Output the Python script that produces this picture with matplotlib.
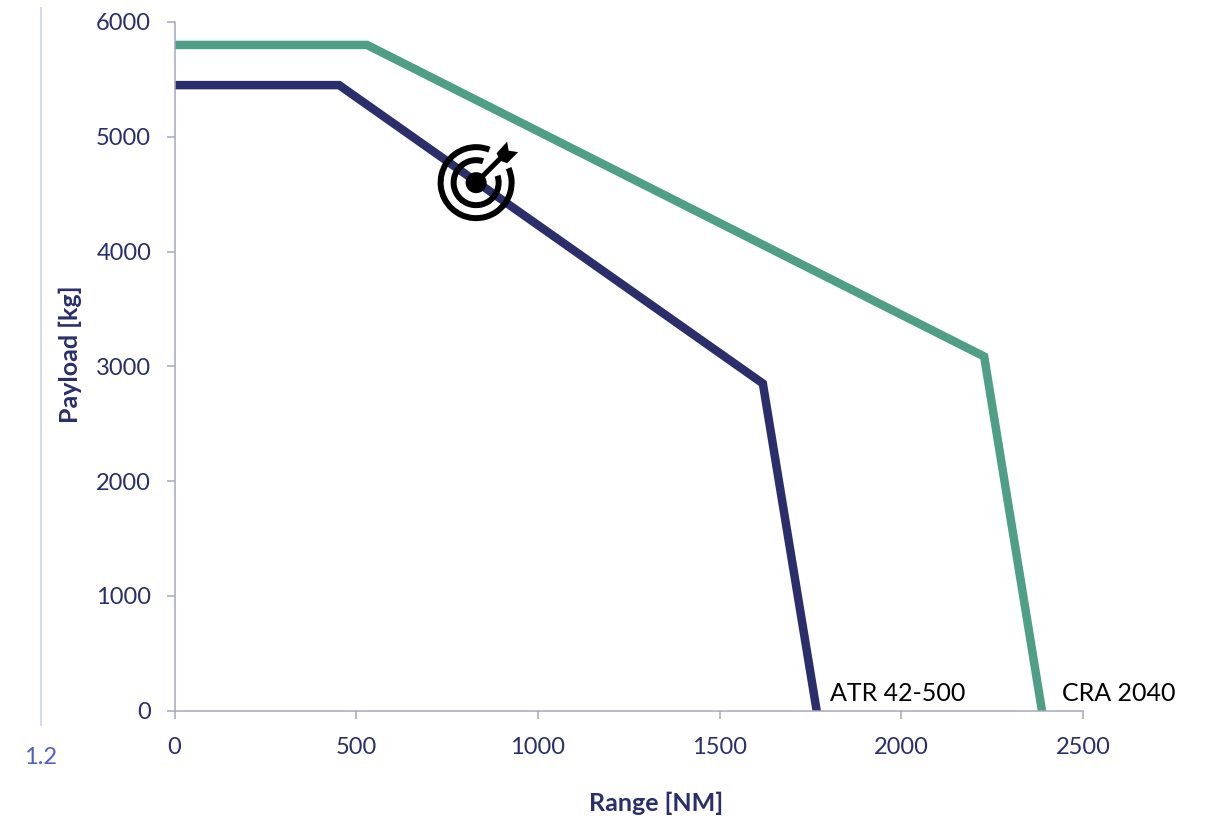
import matplotlib
matplotlib.use("Agg")
import matplotlib.pyplot as plt
from matplotlib.lines import Line2D
from matplotlib.patches import Circle, Polygon, Wedge
from matplotlib.transforms import Affine2D

atr_range = [0, 453, 1619, 1767]
atr_payload = [5450, 5450, 2850, 0]
cra_range = [0, 530, 2228, 2387]
cra_payload = [5800, 5800, 3085, 0]

target_range = 830
target_payload = 4600

x_ticks = [0, 500, 1000, 1500, 2000, 2500]
y_ticks = [0, 1000, 2000, 3000, 4000, 5000, 6000]

NAVY = "#2a2f6b"
GREEN = "#4f9e86"
AXIS_GREY = "#a6a7b8"

plt.rcParams["font.family"] = ["Lato", "DejaVu Sans"]


def draw_target(ax, x, y):
    # bullseye icon, sized in pixels so it stays round whatever the axis scales are
    cx, cy = ax.transData.transform((x, y))
    tr = Affine2D().translate(cx, cy)
    for r, w, gap in [(38.5, 6, (24, 68)), (25.5, 6, (18, 72))]:
        ax.add_patch(Wedge((0, 0), r, gap[1], gap[0] + 360, width=w, color="black",
                           lw=0, transform=tr, clip_on=False, zorder=5))
    ax.add_patch(Circle((0, 0), 10.5, color="black", lw=0, transform=tr, clip_on=False, zorder=5))
    # shaft and fletching
    ax.plot([0, 25], [0, 25], color="black", lw=3.6, transform=tr, clip_on=False, zorder=5)
    fletch = [(20.5, 29.5), (31, 41), (32.5, 32), (42, 30.5), (31, 19.5), (24, 22)]
    ax.add_patch(Polygon(fletch, closed=True, color="black", lw=0, transform=tr,
                         clip_on=False, zorder=5))


fig = plt.figure(figsize=(12.05, 8.25), dpi=100)
ax = fig.add_axes([174.5 / 1205, 1 - 710.5 / 825, 908.5 / 1205, 688.5 / 825])

ax.plot(atr_range, atr_payload, color=NAVY, lw=6.1, solid_joinstyle="miter", solid_capstyle="projecting")
ax.plot(cra_range, cra_payload, color=GREEN, lw=6.1, solid_joinstyle="miter", solid_capstyle="projecting")

ax.set_xlim(0, 2500)
ax.set_ylim(0, 6000)
ax.set_xticks(x_ticks)
ax.set_yticks(y_ticks)
ax.tick_params(axis="both", length=5.8, width=1.1, color=AXIS_GREY, labelcolor=NAVY, labelsize=17)
ax.tick_params(axis="x", pad=13)
ax.tick_params(axis="y", pad=11)

ax.spines["top"].set_visible(False)
ax.spines["right"].set_visible(False)
for side in ["left", "bottom"]:
    ax.spines[side].set_color(AXIS_GREY)
    ax.spines[side].set_linewidth(1.1)

ax.text(1804, 148, "ATR 42-500", color="black", fontsize=18, va="center", ha="left")
ax.text(2442, 148, "CRA 2040", color="black", fontsize=18, va="center", ha="left")

draw_target(ax, target_range, target_payload)

fig.text(70 / 1205, 1 - 354 / 825, "Payload [kg]", color=NAVY, fontsize=18, fontweight="bold",
         rotation=90, ha="center", va="center")
fig.text(656 / 1205, 1 - 803 / 825, "Range [NM]", color=NAVY, fontsize=18, fontweight="bold",
         ha="center", va="center")

# margin rule with its number
fig.add_artist(Line2D([40.5 / 1205, 40.5 / 1205], [1 - 8 / 825, 1 - 725 / 825], color="#d6d8f2", lw=1.4))
fig.text(40.5 / 1205, 1 - 757 / 825, "1.2", color="#5060c0", fontsize=17, ha="center", va="center")

fig.savefig("out.png", dpi=100, facecolor="white")
